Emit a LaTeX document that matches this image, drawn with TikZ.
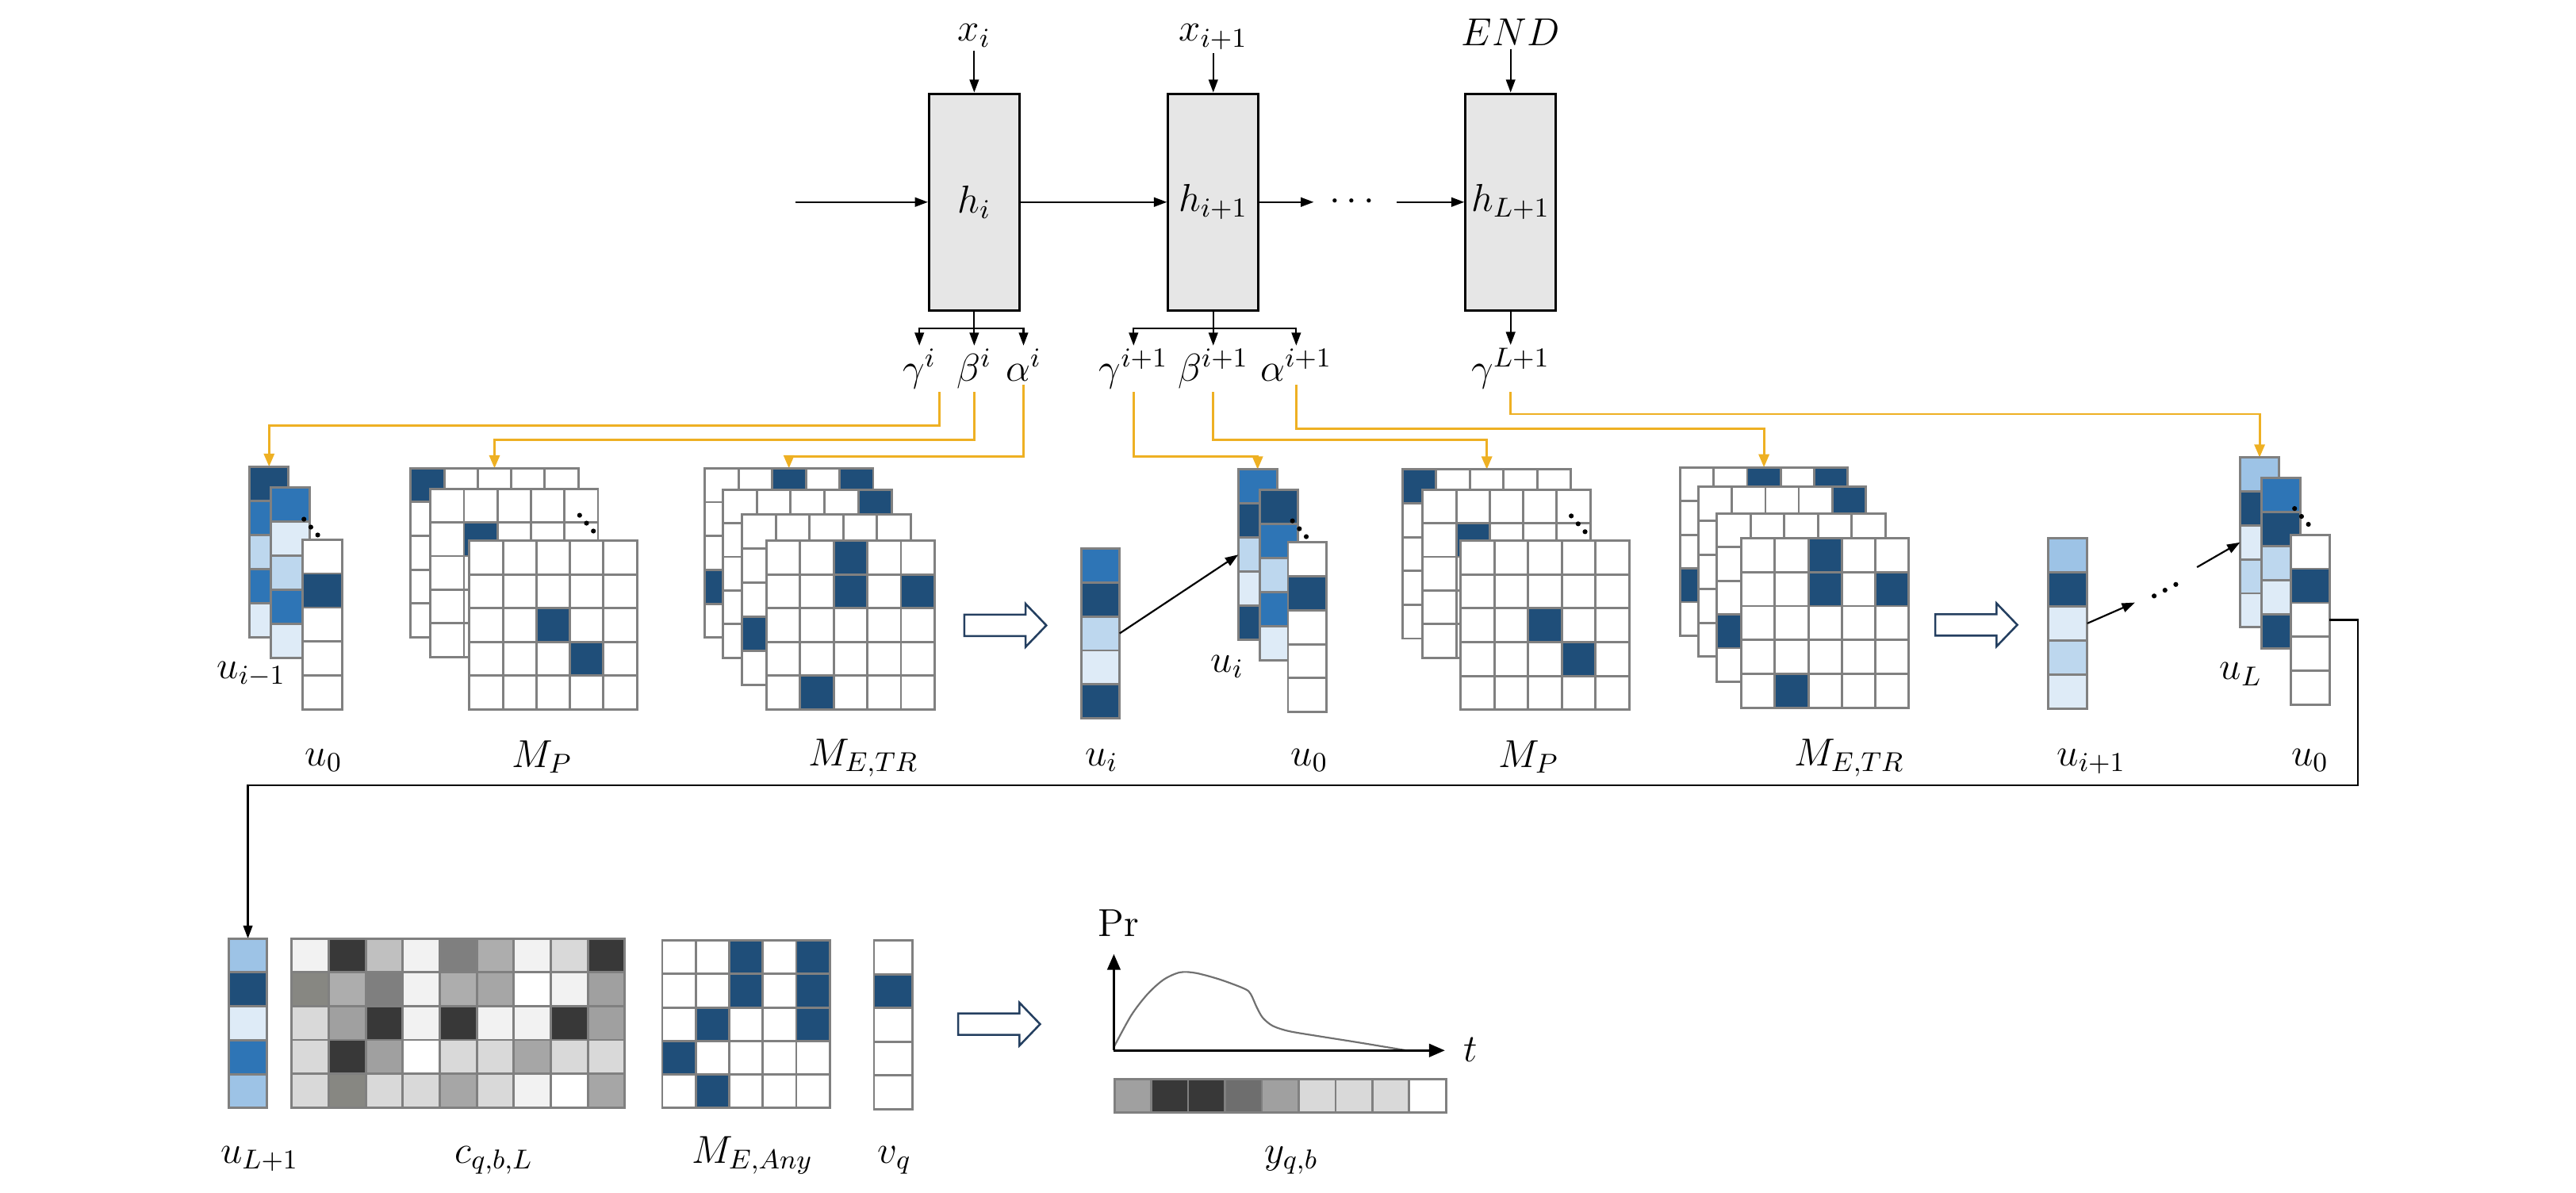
\RequirePackage{fix-cm}
\documentclass[tikz,border=0pt]{standalone}
\usepackage{tikz}
\usetikzlibrary{
    arrows.meta,
    positioning
}
\usepackage{amsmath, amssymb}

\definecolor{cdark}{HTML}{1F4E79}
\definecolor{cmid}{HTML}{2E75B6}
\definecolor{clight}{HTML}{BDD7EE}
\definecolor{cpale}{HTML}{DEEBF7}
\definecolor{csky}{HTML}{9DC3E6}
\definecolor{gridgray}{HTML}{808080}
\definecolor{boxgray}{HTML}{E6E6E6}
\definecolor{orng}{HTML}{EEB023}
\definecolor{navy}{HTML}{243F60}
\definecolor{curvegray}{HTML}{707070}
\definecolor{gA}{HTML}{F2F2F2}
\definecolor{gB}{HTML}{D9D9D9}
\definecolor{gC}{HTML}{C0C0C0}
\definecolor{gD}{HTML}{ADADAD}
\definecolor{gE}{HTML}{A6A6A6}
\definecolor{gF}{HTML}{A0A0A0}
\definecolor{gG}{HTML}{878782}
\definecolor{gH}{HTML}{7F7F7F}
\definecolor{gI}{HTML}{6E6E6E}
\definecolor{gJ}{HTML}{383838}

% column / row of coloured cells: x, y, w, h, colours
\newcommand{\vcells}[5]{%
    \foreach \cc [count=\k] in {#5}
        \filldraw[cell, fill=\cc] (#1,{#2+(\k-1)*#4}) rectangle ++(#3,#4);}
\newcommand{\hcells}[5]{%
    \foreach \cc [count=\k] in {#5}
        \filldraw[cell, fill=\cc] ({#1+(\k-1)*#3},#2) rectangle ++(#3,#4);}
% 5x5 matrix: x, y, w, h, dark cells col/row
\newcommand{\mgrid}[5]{%
    \foreach \rw in {0,...,4}
        \foreach \cl in {0,...,4}
            \filldraw[cell, fill=white] ({#1+\cl*#3},{#2+\rw*#4}) rectangle ++(#3,#4);
    \foreach \cl/\rw in {#5}
        \filldraw[cell, fill=cdark] ({#1+(\cl-1)*#3},{#2+(\rw-1)*#4}) rectangle ++(#3,#4);}
\newcommand{\hollow}[2]{%
    \draw[blockarrow] (#1,{#2-6.5}) -- ++(37.3,0) -- ++(0,-6.6) -- ++(12.6,13.1)
        -- ++(-12.6,13.1) -- ++(0,-6.6) -- ++(-37.3,0) -- cycle;}
\newcommand{\tridots}[4]{% x, y, dx, dy
    \foreach \d in {0,1,2} \fill ({#1+\d*#3},{#2+\d*#4}) circle (0.85pt);}

\begin{document}
\begin{tikzpicture}[x=0.02cm, y=-0.02cm,
    lab/.style={font=\fontsize{13.5}{16}\selectfont, inner sep=1pt},
    hbox/.style={draw, line width=0.8pt, fill=boxgray, minimum width=1.1cm,
        minimum height=2.64cm, inner sep=0pt, font=\fontsize{13.5}{16}\selectfont},
    cell/.style={draw=gridgray, line width=0.8pt},
    flow/.style={-{Triangle[length=4.5pt,width=3.2pt]}, line width=0.6pt},
    feed/.style={-{Triangle[length=4.5pt,width=3.6pt]}, draw=orng, line width=0.8pt},
    blockarrow/.style={draw=navy, line width=0.7pt, fill=white},
    axis/.style={-{Triangle[length=5.5pt,width=4.5pt]}, line width=0.9pt},
    curve/.style={draw=curvegray, line width=0.6pt}]
    \useasboundingbox (0,0) rectangle (1568,726);

    % recurrent cells
    \node[hbox] (h1) at (593,123) {$h_i$};
    \node[hbox] (h2) at (738.5,123) {$h_{i+1}$};
    \node[hbox] (h3) at (919.5,123) {$h_{L+1}$};
    \coordinate (hin) at (484,123);
    \node[lab, minimum width=1cm, inner sep=0pt] (hdots) at (825,123) {$\cdots$};
    \draw[flow] (hin) -- (h1);
    \draw[flow] (h1) -- (h2);
    \draw[flow] (h2) -- (hdots);
    \draw[flow] (hdots) -- (h3);

    \node[lab, anchor=base] (x1) at (593,25) {$x_i$};
    \node[lab, anchor=base] (x2) at (738.5,25) {$x_{i+1}$};
    \node[lab, anchor=base] (x3) at (919.5,28) {$END$};
    \draw[flow] (x1) -- (h1);
    \draw[flow] (x2) -- (h2);
    \draw[flow] (x3) -- (h3);

    \node[lab, anchor=base] (g1) at (559.6,232) {$\gamma^i$};
    \node[lab, anchor=base] (b1) at (593,232) {$\beta^i$};
    \node[lab, anchor=base] (a1) at (623,232) {$\alpha^i$};
    \node[lab, anchor=base] (g2) at (690,232) {$\gamma^{i+1}$};
    \node[lab, anchor=base] (b2) at (738.5,232) {$\beta^{i+1}$};
    \node[lab, anchor=base] (a2) at (789,232) {$\alpha^{i+1}$};
    \node[lab, anchor=base] (g3) at (919.5,232) {$\gamma^{L+1}$};
    \draw[line width=0.6pt] (h1.south) -- ++(0,10) coordinate (s1);
    \draw[line width=0.6pt] (h2.south) -- ++(0,10) coordinate (s2);
    \foreach \n in {g1,b1,a1} \draw[flow] (s1) -| (\n.north);
    \foreach \n in {g2,b2,a2} \draw[flow] (s2) -| (\n.north);
    \draw[flow] (h3) -- (g3);

    % targets of the parameters
    \coordinate (tA1) at (163.8,284);
    \coordinate (tP1) at (301,285);
    \coordinate (tE1) at (480.2,285);
    \coordinate (tA2) at (765.5,285.7);
    \coordinate (tP2) at (905,285.7);
    \coordinate (tE2) at (1073.7,284.4);
    \coordinate (tA3) at (1375.4,278.4);
    \draw[feed] (g1.south east) |- (tA1 |- 0,259) -- (tA1);
    \draw[feed] (b1.south) |- (tP1 |- 0,267.6) -- (tP1);
    \draw[feed] (a1.south) |- (tE1 |- 0,278) -- (tE1);
    \draw[feed] (g2.south) |- (tA2 |- 0,278) -- (tA2);
    \draw[feed] (b2.south) |- (tP2 |- 0,267.6) -- (tP2);
    \draw[feed] (a2.south) |- (tE2 |- 0,261) -- (tE2);
    \draw[feed] (g3.south) |- (tA3 |- 0,252) -- (tA3);

    % step i
    \vcells{151.9}{284}{23.8}{20.76}{cdark,cmid,clight,cmid,cpale}
    \vcells{165}{296.7}{23.5}{20.74}{cmid,cpale,clight,cmid,cpale}
    \tridots{185}{316}{4.2}{4.8}
    \vcells{184.3}{328.3}{24}{20.74}{white,cdark,white,white,white}
    \mgrid{250}{285}{20.4}{20.56}{1/1}
    \mgrid{262}{297.4}{20.4}{20.5}{2/2}
    \tridots{352.8}{313.6}{4.2}{4.8}
    \mgrid{285.7}{329}{20.4}{20.54}{3/3,4/4}
    \mgrid{429}{285}{20.5}{20.6}{3/1,5/1,1/4}
    \mgrid{440}{297.9}{20.6}{20.5}{5/1}
    \mgrid{451.8}{313.2}{20.5}{20.7}{1/4}
    \mgrid{466.4}{329}{20.5}{20.54}{3/1,3/2,5/2,2/5}
    \hollow{587}{380.6}
    \vcells{658.2}{333.8}{23.3}{20.68}{cmid,cdark,clight,cpale,cdark}

    \node[lab, anchor=base] (lu1) at (153,413) {$u_{i-1}$};
    \node[lab, anchor=base] (lz1) at (197,466) {$u_0$};
    \node[lab, anchor=base] (lp1) at (330,467) {$M_P$};
    \node[lab, anchor=base] (le1) at (525.4,466) {$M_{E,TR}$};
    \node[lab, anchor=base] (lr1) at (670.5,466) {$u_i$};

    % step i+1
    \vcells{753.7}{285.7}{23.7}{20.74}{cmid,cdark,clight,cpale,cdark}
    \vcells{766.8}{298.3}{23.4}{20.72}{cdark,cmid,clight,cmid,cpale}
    \tridots{786.7}{317}{4.2}{4.8}
    \vcells{784}{330}{23.4}{20.68}{white,cdark,white,white,white}
    \mgrid{853.7}{285.7}{20.5}{20.58}{1/1}
    \mgrid{866}{297.9}{20.4}{20.5}{2/2}
    \tridots{956.4}{314}{4.2}{4.8}
    \mgrid{889.2}{329}{20.5}{20.6}{3/3,4/4}
    \mgrid{1022.7}{284.4}{20.4}{20.5}{3/1,5/1,1/4}
    \mgrid{1034}{296.2}{20.3}{20.7}{5/1}
    \mgrid{1045.1}{312.4}{20.5}{20.5}{1/4}
    \mgrid{1059.9}{327.5}{20.4}{20.66}{3/1,3/2,5/2,2/5}
    \hollow{1178}{380.3}
    \vcells{1246.8}{327.5}{23.7}{20.74}{csky,cdark,cpale,clight,cpale}

    \node[lab, anchor=base] (lu2) at (747,409) {$u_i$};
    \node[lab, anchor=base] (lz2) at (797,466) {$u_0$};
    \node[lab, anchor=base] (lp2) at (930.5,467) {$M_P$};
    \node[lab, anchor=base] (le2) at (1125.6,466) {$M_{E,TR}$};
    \node[lab, anchor=base] (lr2) at (1273,466) {$u_{i+1}$};

    % last step
    \vcells{1363.5}{278.4}{23.7}{20.68}{csky,cdark,cpale,clight,cpale}
    \vcells{1376.7}{291}{23.7}{20.76}{cmid,cdark,clight,cpale,cdark}
    \tridots{1396.7}{309.5}{4.2}{4.8}
    \vcells{1394.3}{325.4}{23.7}{20.74}{white,cdark,white,white,white}
    \node[lab, anchor=base] (lu3) at (1364,413.7) {$u_L$};
    \node[lab, anchor=base] (lz3) at (1406,466) {$u_0$};

    \coordinate (uiR) at (681.5,385.5);
    \coordinate (uiB) at (753.7,337.6);
    \draw[flow] (uiR) -- (uiB);
    \coordinate (upR) at (1270.5,379.4);
    \coordinate (upM) at (1299.5,366.7);
    \tridots{1311.2}{362.7}{6.6}{-3.5}
    \coordinate (uLA) at (1337.3,345.2);
    \coordinate (uLB) at (1363.5,330.1);
    \draw[flow] (upR) -- (upM);
    \draw[flow] (uLA) -- (uLB);

    % output
    \coordinate (uLout) at (1418,377.3);
    \coordinate (uLin) at (150.9,571.2);
    \draw[flow] (uLout) -| (1435.2,478) -| (uLin);

    \vcells{139.4}{571.2}{23}{20.62}{csky,cdark,cpale,cmid,csky}
    \hcells{177.6}{571.2}{22.53}{20.56}{gA,gJ,gC,gA,gH,gD,gA,gB,gJ}
    \hcells{177.6}{591.76}{22.53}{20.56}{gG,gD,gH,gA,gD,gE,white,gA,gF}
    \hcells{177.6}{612.32}{22.53}{20.56}{gB,gF,gJ,gA,gJ,gA,gA,gJ,gF}
    \hcells{177.6}{632.88}{22.53}{20.56}{gB,gJ,gF,white,gB,gB,gE,gB,gB}
    \hcells{177.6}{653.44}{22.53}{20.56}{gB,gG,gB,gB,gE,gB,gA,white,gE}
    \mgrid{403.1}{572.4}{20.4}{20.38}{3/1,5/1,3/2,5/2,2/3,5/3,1/4,2/5}
    \vcells{532}{572.4}{23.5}{20.54}{white,cdark,white,white,white}
    \hollow{583.2}{623.3}

    \coordinate (org) at (678,639.3);
    \coordinate (ytop) at (678,580.6);
    \coordinate (xend) at (879.5,639.3);
    \draw[curve] plot[smooth, tension=0.5] coordinates {(678,637.3) (688.6,617.9)
        (698.5,605) (708.3,596.2) (718.2,591.8) (728,592.2) (742.8,596.2)
        (757.6,601.8) (761.3,605) (765,613.1) (768.7,619.5) (774.8,624.4)
        (784.7,627.6) (801.9,630.5) (826.6,634.4) (856.1,639.3)};
    \draw[axis] (org) -- (ytop);
    \draw[axis] (org) -- (xend);
    \node[lab] (pr) at (680.8,562) {Pr};
    \node[lab] (tt) at (895,639) {$t$};
    \hcells{678.3}{656.6}{22.44}{20.4}{gF,gJ,gJ,gI,gF,gB,gB,gB,white}

    \node[lab, anchor=base] (lq1) at (158,708) {$u_{L+1}$};
    \node[lab, anchor=base] (lq2) at (300.7,708) {$c_{q,b,L}$};
    \node[lab, anchor=base] (lq3) at (458,708) {$M_{E,Any}$};
    \node[lab, anchor=base] (lq4) at (544.5,708) {$v_q$};
    \node[lab, anchor=base] (lq5) at (786,708) {$y_{q,b}$};
\end{tikzpicture}
\end{document}
